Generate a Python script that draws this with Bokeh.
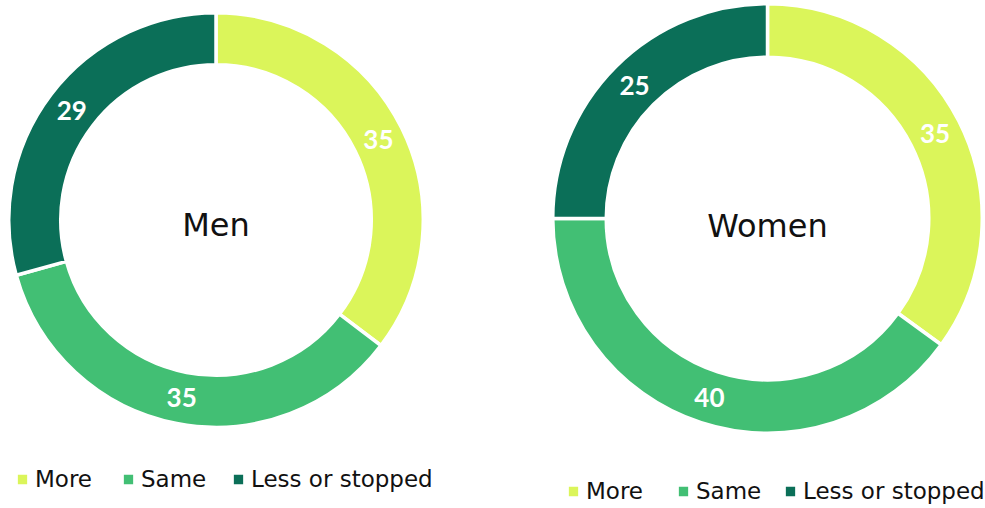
import math
from bokeh.plotting import figure
from bokeh.models import Range1d, Legend, LegendItem, ColumnDataSource
from bokeh.core.properties import value
from bokeh.embed import file_html
from bokeh.resources import INLINE

categories = ["More", "Same", "Less or stopped"]
men_values = [35, 35, 29]
women_values = [35, 40, 25]
colors = ["#DBF55A", "#42BF74", "#0B6F58"]
titles = ["Men", "Women"]

W, H = 985, 508
p = figure(width=W, height=H, x_range=Range1d(0, W), y_range=Range1d(0, H),
           output_backend="svg", toolbar_location=None, min_border=0,
           x_axis_location=None, y_axis_location=None)
p.grid.visible = False
p.outline_line_color = None
p.background_fill_color = "white"

SEP = 3.5


def py(page_y):
    return H - page_y


def donut(cx, cy, r_in, r_out, vals, title, ty, leg_x, leg_y):
    total = float(sum(vals))
    cum = 0.0
    starts, ends, lx, ly = [], [], [], []
    r_mid = (r_in + r_out) / 2.0
    for v in vals:
        a0 = math.pi / 2 - 2 * math.pi * cum / total
        a1 = math.pi / 2 - 2 * math.pi * (cum + v) / total
        am = (a0 + a1) / 2
        starts.append(a0)
        ends.append(a1)
        lx.append(cx + r_mid * math.cos(am))
        ly.append(cy + r_mid * math.sin(am))
        cum += v
    src = ColumnDataSource(dict(start=starts, end=ends, color=colors, cat=categories,
                                lx=lx, ly=ly, label=[str(v) for v in vals]))
    r = p.annular_wedge(x=cx, y=cy, inner_radius=r_in - SEP / 2, outer_radius=r_out + SEP / 2,
                        start_angle="start", end_angle="end", direction="clock",
                        fill_color="color", line_color="white", line_width=SEP, source=src)
    p.text(x="lx", y="ly", text="label", source=src, text_color="white",
           text_font=value("Lato"), text_font_style="bold", text_font_size="26px",
           text_align="center", text_baseline="middle")
    p.text(x=[cx], y=[ty], text=[title], text_color="#111111",
           text_font=value("DejaVu Sans"), text_font_size="32px",
           text_align="center", text_baseline="middle")
    for i, cat in enumerate(categories):
        leg = Legend(items=[LegendItem(label=cat, renderers=[r], index=i)],
                     location=(leg_x[i], leg_y), orientation="horizontal",
                     padding=0, margin=0, border_line_alpha=0, background_fill_alpha=0,
                     glyph_width=16, glyph_height=16, label_standoff=5,
                     label_text_font="DejaVu Sans", label_text_font_size="23px",
                     label_text_color="#111111", label_height=20)
        p.add_layout(leg)


donut(215.5, py(219.5), 157, 205.5, men_values, titles[0], py(224),
      [14, 120, 230], 16)
donut(767, py(218), 163, 213, women_values, titles[1], py(225),
      [565, 675, 782], 4)

open("out.html", "w").write(file_html(p, INLINE))
